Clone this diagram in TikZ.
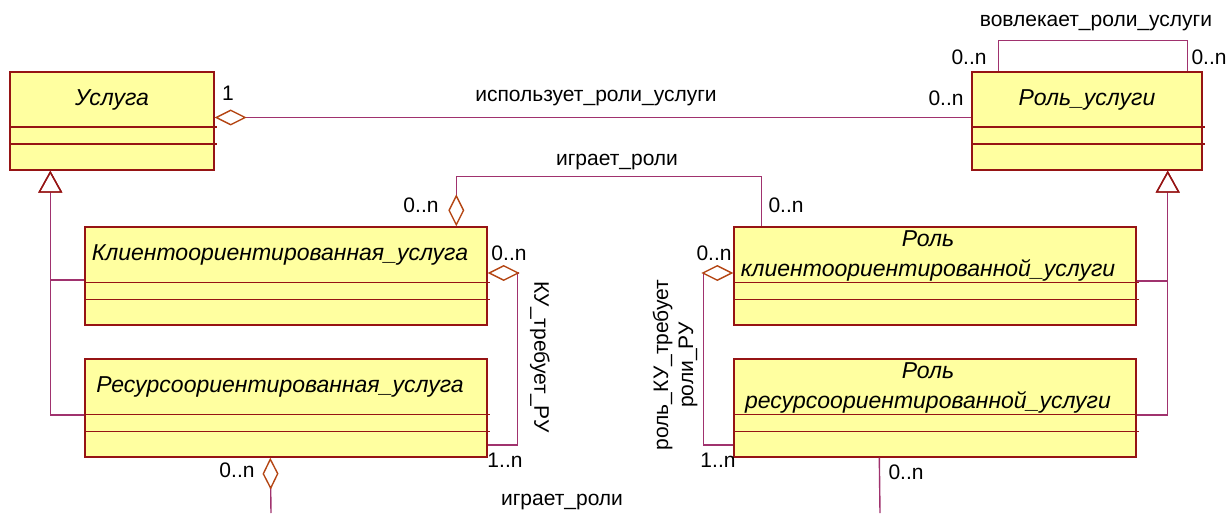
\documentclass[tikz,border=0pt]{standalone}
\usepackage{fontspec}
\setmainfont{Liberation Sans}
\usetikzlibrary{arrows.meta,calc}
\definecolor{clsfill}{RGB}{255,255,160}
\definecolor{clsline}{RGB}{150,20,20}
\definecolor{assocline}{RGB}{160,50,110}
\definecolor{diamline}{RGB}{180,70,20}

\begin{document}
\begin{tikzpicture}[x=0.5pt,y=-0.5pt, line width=0.7pt,
    cls/.style={rectangle,draw=clsline,fill=clsfill,minimum height=49pt,inner sep=0pt},
    wide/.style={cls,minimum width=201pt},
    clsname/.style={font=\itshape\fontsize{11.5}{15}\selectfont,align=center,inner sep=0pt},
    lbl/.style={font=\fontsize{10.5}{12.5}\selectfont,inner sep=0pt},
    assoc/.style={draw=assocline},
    agg/.style={assoc,{Diamond[open,length=16pt,width=8pt,color=diamline]}-},
    inh/.style={assoc,-{Triangle[open,length=11pt,width=12pt,color=clsline]}}]
  \useasboundingbox (0,0) rectangle (1229,513);
  % classes
  \node[cls,minimum width=102pt] at (112,121) (usl) {};
  \node[cls,minimum width=115pt] at (1087,121) (rol) {};
  \node[wide] at (286,276) (kyu) {};
  \node[wide] at (286,408) (ryu) {};
  \node[wide] at (935,276) (rku) {};
  \node[wide] at (935,408) (rru) {};
  \foreach \b in {usl,rol,kyu,ryu,rku,rru}{
    \draw[clsline,line width=0.8pt] ($(\b.north west)+(0,56)$) -- ($(\b.north east)+(2,56)$);
    \draw[clsline,line width=0.8pt] ($(\b.north west)+(0,73)$) -- ($(\b.north east)+(2,73)$);
  }
  \node[clsname] at (112,100) (uslName) {Услуга};
  \node[clsname] at (1087,100) (rolName) {Роль\_услуги};
  \node[clsname] at (280,255) (kyuName) {Клиентоориентированная\_услуга};
  \node[clsname] at (280,387) (ryuName) {Ресурсоориентированная\_услуга};
  \node[clsname] at (928,256) (rkuName) {Роль\\клиентоориентированной\_услуги};
  \node[clsname] at (928,388) (rruName) {Роль\\ресурсоориентированной\_услуги};

  % free ends at the bottom
  \coordinate (ryuOut) at (271,513);
  \coordinate (rruOut) at (880,513);

  % generalization
  \draw[inh] ($(kyu.west)+(0,4)$) -| ($(usl.south west)+(41,0)$);
  \draw[inh] ($(ryu.west)+(0,7)$) -| ($(usl.south west)+(41,0)$);
  \draw[inh] ($(rku.east)+(0,5)$) -| ($(rol.south east)+(-35,0)$);
  \draw[inh] ($(rru.east)+(0,7)$) -| ($(rol.south east)+(-35,0)$);

  % associations
  \draw[agg] ($(usl.east)+(0,-3.5)$) -- ($(rol.west)+(0,-3.5)$);
  \draw[assoc] ($(rol.north west)+(27,0)$) -- ++(0,-31) -| ($(rol.north east)+(-15,0)$);
  \draw[agg] ($(kyu.north west)+(372,0)$) -- ++(0,-50) -| ($(rku.north west)+(28,0)$);
  \draw[agg] ($(kyu.east)+(0,-3)$) -- ++(30,0) |- ($(ryu.east)+(0,37)$);
  \draw[agg] ($(rku.west)+(0,-3)$) -- ++(-30,0) |- ($(rru.west)+(0,37)$);
  \draw[agg] ($(ryu.south west)+(186,0)$) -- (ryuOut);
  \draw[assoc] ($(rru.south west)+(146,0)$) -- (rruOut);

  % labels
  \node[lbl] at (228,93) (m1) {1};
  \node[lbl] at (596,98) (a1) {использует\_роли\_услуги};
  \node[lbl] at (946,98) (m2) {0..n};
  \node[lbl] at (1096,23) (a2) {вовлекает\_роли\_услуги};
  \node[lbl] at (969,57) (m3) {0..n};
  \node[lbl] at (1209,57) (m4) {0..n};
  \node[lbl] at (617,162) (a3) {играет\_роли};
  \node[lbl] at (421,205) (m5) {0..n};
  \node[lbl] at (786,205) (m6) {0..n};
  \node[lbl] at (509,253) (m7) {0..n};
  \node[lbl] at (505,460) (m8) {1..n};
  \node[lbl,rotate=-90] at (540,357) (a4) {КУ\_требует\_РУ};
  \node[lbl] at (714,253) (m9) {0..n};
  \node[lbl] at (718,460) (m10) {1..n};
  \node[lbl,rotate=90,align=center] at (675,365) (a5) {роль\_КУ\_требует\\роли\_РУ};
  \node[lbl] at (237,470) (m11) {0..n};
  \node[lbl] at (906,472) (m12) {0..n};
  \node[lbl] at (562,502) (a6) {играет\_роли};
\end{tikzpicture}
\end{document}
